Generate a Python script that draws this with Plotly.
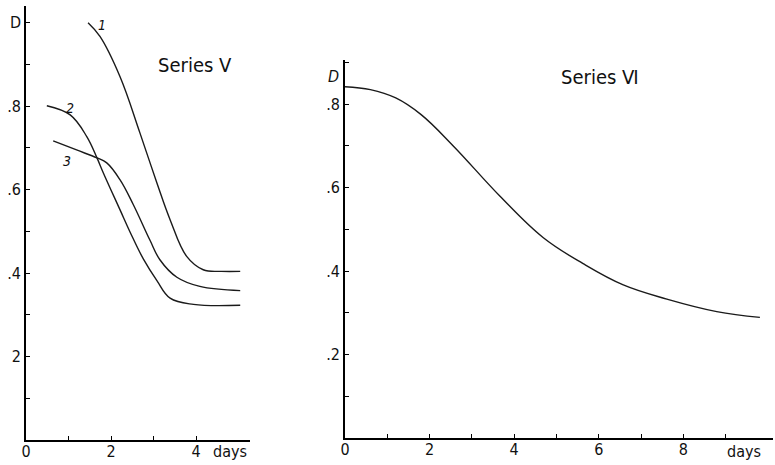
import plotly.graph_objects as go

# Series V (left panel)
c1_days = [1.46, 1.74, 2.21, 2.68, 3.08, 3.39, 3.78, 4.17, 4.6, 5.04]
c1_d = [1.0, 0.967, 0.871, 0.736, 0.616, 0.528, 0.44, 0.408, 0.404, 0.404]
c2_days = [0.49, 1.04, 1.43, 1.67, 1.82, 2.21, 2.45, 2.76, 3.08, 3.39, 3.94, 5.04]
c2_d = [0.801, 0.779, 0.727, 0.676, 0.640, 0.552, 0.498, 0.434, 0.382, 0.340, 0.325, 0.323]
c3_days = [0.64, 1.19, 1.67, 1.90, 2.21, 2.52, 2.92, 3.15, 3.55, 4.09, 5.04]
c3_d = [0.717, 0.695, 0.676, 0.664, 0.624, 0.565, 0.478, 0.432, 0.390, 0.368, 0.358]

# Series VI (right panel)
s6_days = [0.0, 0.6, 1.2, 1.8, 2.56, 3.66, 4.69, 5.63, 6.58, 7.61, 8.79, 9.81]
s6_d = [0.842, 0.835, 0.815, 0.775, 0.700, 0.580, 0.480, 0.418, 0.367, 0.333, 0.303, 0.289]

left_ytick_vals = [0.1, 0.2, 0.3, 0.4, 0.5, 0.6, 0.7, 0.8, 0.9, 1.0]
left_ytick_text = ["", "2", "", ".4", "", ".6", "", ".8", "", "D"]
left_xtick_vals = [0, 1, 2, 3, 4]
left_xtick_text = ["0", "", "2", "", "4"]
right_ytick_vals = [0.1, 0.2, 0.3, 0.4, 0.5, 0.6, 0.7, 0.8, 0.9]
right_ytick_text = ["", ".2", "", ".4", "", ".6", "", ".8", ""]
right_xtick_vals = [0, 1, 2, 3, 4, 5, 6, 7, 8, 9]
right_xtick_text = ["0", "", "2", "", "4", "", "6", "", "8", ""]

W, H = 775, 465
fam = "DejaVu Sans Condensed, Liberation Sans Narrow, Liberation Sans, sans-serif"
font = dict(family=fam, size=16, color="#111")

fig = go.Figure()
line = dict(color="#1a1a1a", width=1.4, shape="spline", smoothing=1.1)
for xs, ys in [(c1_days, c1_d), (c2_days, c2_d), (c3_days, c3_d)]:
    fig.add_trace(go.Scatter(x=xs, y=ys, mode="lines", line=line, xaxis="x", yaxis="y",
                             showlegend=False, hoverinfo="skip"))
fig.add_trace(go.Scatter(x=s6_days, y=s6_d, mode="lines", line=line, xaxis="x2", yaxis="y2",
                         showlegend=False, hoverinfo="skip"))

axcommon = dict(showline=True, linecolor="black", linewidth=1.6, ticks="inside",
                ticklen=4, tickwidth=1, tickcolor="black", showgrid=False, zeroline=False,
                tickfont=font, tickmode="array", automargin=False)

fig.update_layout(
    width=W, height=H, margin=dict(l=0, r=0, t=0, b=0),
    paper_bgcolor="white", plot_bgcolor="white",
    xaxis=dict(domain=[26 / W, 250 / W], range=[0, 5.27], anchor="y",
               tickvals=left_xtick_vals, ticktext=left_xtick_text,
               ticklabelstandoff=-4, **axcommon),
    yaxis=dict(domain=[(H - 440) / H, 1 - 6 / H], range=[0, 1.04], anchor="x",
               tickvals=left_ytick_vals, ticktext=left_ytick_text, **axcommon),
    xaxis2=dict(domain=[345 / W, 773 / W], range=[0, 10.12], anchor="y2",
                tickvals=right_xtick_vals, ticktext=right_xtick_text,
                ticklabelstandoff=-4, **axcommon),
    yaxis2=dict(domain=[(H - 438) / H, 1 - 60 / H], range=[0, 0.906], anchor="x2",
                tickvals=right_ytick_vals, ticktext=right_ytick_text, **axcommon),
)

ann = []
ann.append(dict(x=3.98, y=0.899, xref="x", yref="y", text="Series Ⅴ", showarrow=False,
                font=dict(family=fam, size=20, color="#111")))
ann.append(dict(x=6.03, y=0.866, xref="x2", yref="y2", text="Series Ⅵ", showarrow=False,
                font=dict(family=fam, size=20, color="#111")))
ann.append(dict(x=4.8, y=(H - 451) / H, xref="x", yref="paper", yanchor="middle",
                text="days", showarrow=False, font=font))
ann.append(dict(x=9.43, y=(H - 451) / H, xref="x2", yref="paper", yanchor="middle",
                text="days", showarrow=False, font=font))
ann.append(dict(x=333 / W, y=0.866, xref="paper", yref="y2", text="D", showarrow=False,
                font=dict(family=fam, size=16, color="#111", style="italic")))
for txt, xx, yy in [("1", 1.79, 0.995), ("2", 1.04, 0.796), ("3", 0.96, 0.669)]:
    ann.append(dict(x=xx, y=yy, xref="x", yref="y", text=txt, showarrow=False,
                    font=dict(family=fam, size=14, color="#111", style="italic")))
fig.update_layout(annotations=ann)

fig.write_html("out.html", config={"displayModeBar": False},
               post_script="document.body.style.margin='0';document.body.style.overflow='hidden';")
